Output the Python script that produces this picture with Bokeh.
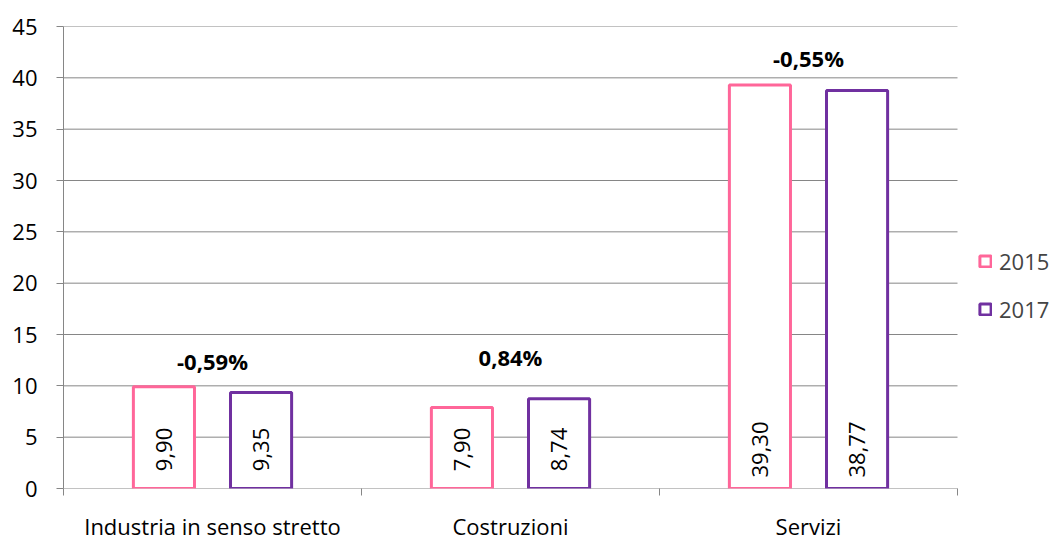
import math
from bokeh.plotting import figure
from bokeh.models import ColumnDataSource, FixedTicker, Legend, LegendItem, Range1d
from bokeh.core.properties import value
from bokeh.embed import file_html
from bokeh.resources import INLINE

categories = ["Industria in senso stretto", "Costruzioni", "Servizi"]
values_2015 = [9.90, 7.90, 39.30]
values_2017 = [9.35, 8.74, 38.77]
labels_2015 = ["9,90", "7,90", "39,30"]
labels_2017 = ["9,35", "8,74", "38,77"]
pct_labels = ["-0,59%", "0,84%", "-0,55%"]
pct_y = [12.4, 12.8, 41.9]
y_ticks = [0, 5, 10, 15, 20, 25, 30, 35, 40, 45]

FONT = "Open Sans"
FS = "22px"
PINK = "#FF6699"
PURPLE = "#7030A0"
GRID = "#868686"

W, H = 1056, 543
LEFT, TOP, BOTTOM = 63, 26, 53
CAT_PX = 298.0  # pixel width of one category slot

n = len(categories)
centers = [i + 0.5 for i in range(n)]
off = 0.163
bw = 0.205
x_max = (W - LEFT) / CAT_PX

src15 = ColumnDataSource(dict(x=[c - off for c in centers], top=values_2015, lab=labels_2015))
src17 = ColumnDataSource(dict(x=[c + off for c in centers], top=values_2017, lab=labels_2017))
srcp = ColumnDataSource(dict(x=centers, y=pct_y, lab=pct_labels))
srcg = ColumnDataSource(dict(x0=[0] * len(y_ticks), x1=[n] * len(y_ticks), y=y_ticks))

p = figure(width=W, height=H, output_backend="svg", toolbar_location=None,
           x_range=Range1d(0, x_max), y_range=Range1d(0, 45),
           min_border_left=LEFT, min_border_right=0, min_border_top=TOP, min_border_bottom=BOTTOM)
p.outline_line_color = None
p.background_fill_color = "white"

# gridlines across the category area only
p.segment(x0="x0", y0="y", x1="x1", y1="y", source=srcg, line_color=GRID, line_width=1)

r15 = p.vbar(x="x", top="top", width=bw, source=src15, fill_color="white",
             line_color=PINK, line_width=3)
r17 = p.vbar(x="x", top="top", width=bw, source=src17, fill_color="white",
             line_color=PURPLE, line_width=3)

for s in (src15, src17):
    p.text(x="x", y=3.8, text="lab", source=s, angle=math.pi / 2,
           text_align="center", text_baseline="middle",
           text_font=value(FONT), text_font_size=FS, text_color="black")

p.text(x="x", y="y", text="lab", source=srcp, text_align="center", text_baseline="middle",
       text_font=value(FONT), text_font_size=FS, text_font_style="bold", text_color="black")

# axes
p.xaxis.ticker = FixedTicker(ticks=centers, minor_ticks=list(range(n + 1)))
p.xaxis.major_label_overrides = {c: name for c, name in zip(centers, categories)}
p.xaxis.major_tick_line_color = None
p.xaxis.minor_tick_out = 7
p.xaxis.minor_tick_in = 0
p.xaxis.minor_tick_line_color = GRID
p.xaxis.axis_line_color = None
p.xaxis.major_label_standoff = 15
p.xaxis.major_label_text_font = FONT
p.xaxis.major_label_text_font_size = FS
p.xaxis.major_label_text_color = "black"

p.yaxis.ticker = FixedTicker(ticks=y_ticks)
p.yaxis.major_tick_out = 7
p.yaxis.major_tick_in = 0
p.yaxis.major_tick_line_color = GRID
p.yaxis.minor_tick_line_color = None
p.yaxis.axis_line_color = GRID
p.yaxis.major_label_standoff = 19
p.yaxis.major_label_text_font = FONT
p.yaxis.major_label_text_font_size = FS
p.yaxis.major_label_text_color = "black"

p.xgrid.grid_line_color = None
p.ygrid.grid_line_color = None

legend = Legend(items=[LegendItem(label="2015", renderers=[r15]),
                       LegendItem(label="2017", renderers=[r17])],
                location=(915, 164), orientation="vertical",
                glyph_width=14, glyph_height=14, label_height=20, spacing=18,
                padding=0, margin=0, label_standoff=7,
                label_text_font=FONT, label_text_font_size=FS,
                border_line_color=None, background_fill_alpha=0)
p.add_layout(legend, "center")

open("out.html", "w").write(file_html(p, INLINE))
